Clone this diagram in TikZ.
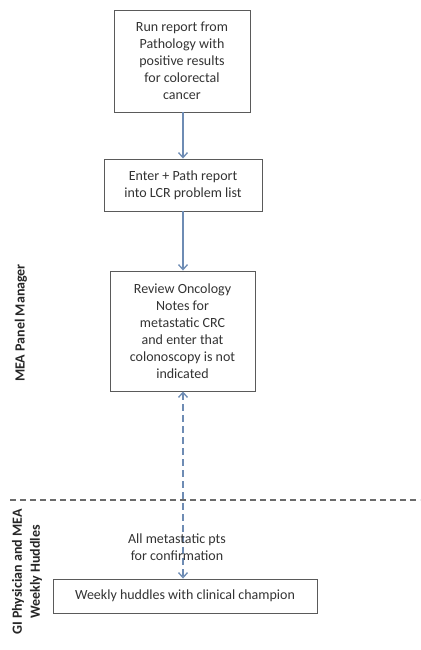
\documentclass[tikz,border=0pt]{standalone}
\usepackage{fontspec}
\setmainfont{Carlito}
\usetikzlibrary{arrows.meta}
\definecolor{arrowblue}{RGB}{110,140,180}
\definecolor{boxgray}{RGB}{90,90,90}
\tikzset{
  box/.style={draw=boxgray, line width=0.9pt, align=center, inner sep=0pt, font=\fontsize{14}{17}\selectfont, text=black!80},
  flow/.style={draw=arrowblue, line width=1.8pt, -{Straight Barb[length=5pt,width=9pt,line width=1.3pt]}},
  dflow/.style={draw=arrowblue, line width=1.6pt, dash pattern=on 7pt off 4pt, {Straight Barb[length=5pt,width=9pt,line width=1.3pt]}-{Straight Barb[length=5pt,width=9pt,line width=1.3pt]}},
  lane/.style={font=\bfseries\fontsize{14}{18}\selectfont, rotate=90, align=center, text=black!85},
  lbl/.style={font=\fontsize{14}{17}\selectfont, align=center, text=black!80}
}
\begin{document}
\begin{tikzpicture}[x=1pt,y=-1pt]
\useasboundingbox (0,0) rectangle (420,650);
\node[box, minimum width=136pt, minimum height=102pt] (b1) at (182,61) {Run report from\\Pathology with\\positive results\\for colorectal\\cancer};
\node[box, minimum width=158pt, minimum height=52pt] (b2) at (183,185) {Enter + Path report\\into LCR problem list};
\node[box, minimum width=145pt, minimum height=120pt] (b3) at (182.5,331) {Review Oncology\\Notes for\\metastatic CRC\\and enter that\\colonoscopy is not\\indicated};
\node[box, minimum width=264pt, minimum height=34pt] (b4) at (185,596) {Weekly huddles with clinical champion};
\coordinate (d1) at (10,500);
\coordinate (d2) at (420,500);
\draw[boxgray!90, line width=1.2pt, dash pattern=on 6pt off 4pt] (d1) -- (d2);
\draw[flow] (b1.south -| 183,0) -- (b2.north -| 183,0);
\draw[flow] (b2.south -| 183,0) -- (b3.north -| 183,0);
\draw[dflow] (b3.south -| 183,0) -- (b4.north -| 183,0);
\node[lbl] (t1) at (177,547) {All metastatic pts\\for confirmation};
\node[lane] (l1) at (21,323) {MEA Panel Manager};
\node[lane] (l2) at (27,572) {GI Physician and MEA\\Weekly Huddles};
\end{tikzpicture}
\end{document}
